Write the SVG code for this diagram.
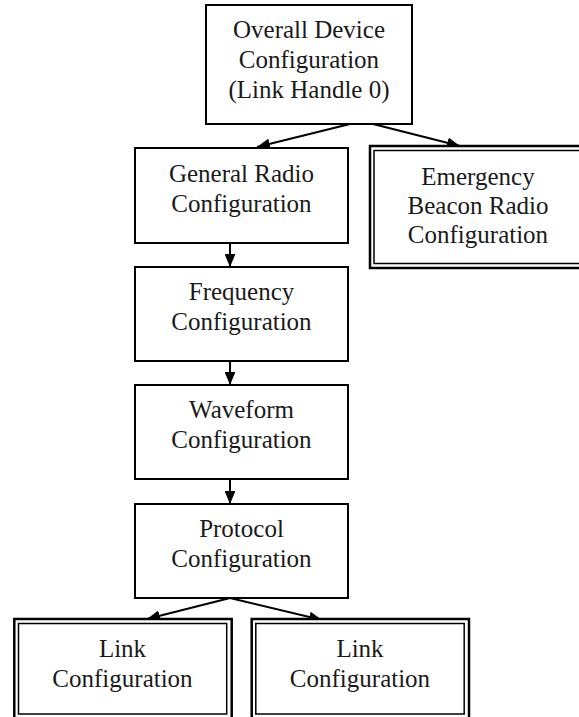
<svg xmlns="http://www.w3.org/2000/svg" width="579" height="717" viewBox="0 0 579 717">
<defs>
<style>
.box{fill:#fff;stroke:#000;stroke-width:2}
.outer{fill:#fff;stroke:#000;stroke-width:2.5}
.inner{fill:none;stroke:#000;stroke-width:1.5}
.lbl{font-family:"Liberation Serif","Times New Roman",serif;font-size:25px;fill:#1a1a1a;text-anchor:middle}
.con{stroke:#000;stroke-width:2;fill:none;marker-end:url(#ah)}
</style>
<marker id="ah" viewBox="0 0 12 10" refX="12" refY="5" markerWidth="6.5" markerHeight="5.4" orient="auto" markerUnits="strokeWidth">
<path d="M0,0 L12,5 L0,10 z" fill="#000"/>
</marker>
</defs>
<rect width="579" height="717" fill="#fff"/>
<g id="connectors">
<line class="con" x1="350" y1="124" x2="257" y2="147"/>
<line class="con" x1="373" y1="124" x2="460" y2="146"/>
<line class="con" x1="230" y1="243" x2="230" y2="267"/>
<line class="con" x1="230" y1="361" x2="230" y2="385"/>
<line class="con" x1="230" y1="479" x2="230" y2="504"/>
<line class="con" x1="230" y1="598" x2="147" y2="619"/>
<line class="con" x1="230" y1="598" x2="322" y2="620"/>
</g>
<g id="overall">
<rect class="box" x="206" y="5" width="206" height="119"/>
<text class="lbl" x="309" y="38">Overall Device</text>
<text class="lbl" x="309" y="68">Configuration</text>
<text class="lbl" x="309" y="98">(Link Handle 0)</text>
</g>
<g id="general">
<rect class="box" x="135" y="148" width="213" height="95"/>
<text class="lbl" x="241.5" y="182">General Radio</text>
<text class="lbl" x="241.5" y="212">Configuration</text>
</g>
<g id="emergency">
<rect class="outer" x="370" y="146" width="220" height="122"/>
<rect class="inner" x="374" y="150.5" width="212" height="113"/>
<text class="lbl" x="478" y="185">Emergency</text>
<text class="lbl" x="478" y="214">Beacon Radio</text>
<text class="lbl" x="478" y="243">Configuration</text>
</g>
<g id="frequency">
<rect class="box" x="135" y="267" width="213" height="94"/>
<text class="lbl" x="241.5" y="300">Frequency</text>
<text class="lbl" x="241.5" y="330">Configuration</text>
</g>
<g id="waveform">
<rect class="box" x="135" y="385" width="213" height="94"/>
<text class="lbl" x="241.5" y="418">Waveform</text>
<text class="lbl" x="241.5" y="448">Configuration</text>
</g>
<g id="protocol">
<rect class="box" x="135" y="504" width="213" height="94"/>
<text class="lbl" x="241.5" y="537">Protocol</text>
<text class="lbl" x="241.5" y="567">Configuration</text>
</g>
<g id="link1">
<rect class="outer" x="14.3" y="619" width="217.4" height="100"/>
<rect class="inner" x="18.5" y="623.5" width="208.2" height="90.5"/>
<text class="lbl" x="122.5" y="657">Link</text>
<text class="lbl" x="122.5" y="687">Configuration</text>
</g>
<g id="link2">
<rect class="outer" x="251.7" y="619" width="217.3" height="100"/>
<rect class="inner" x="255.8" y="623.5" width="208.4" height="90.5"/>
<text class="lbl" x="360" y="657">Link</text>
<text class="lbl" x="360" y="687">Configuration</text>
</g>
</svg>
